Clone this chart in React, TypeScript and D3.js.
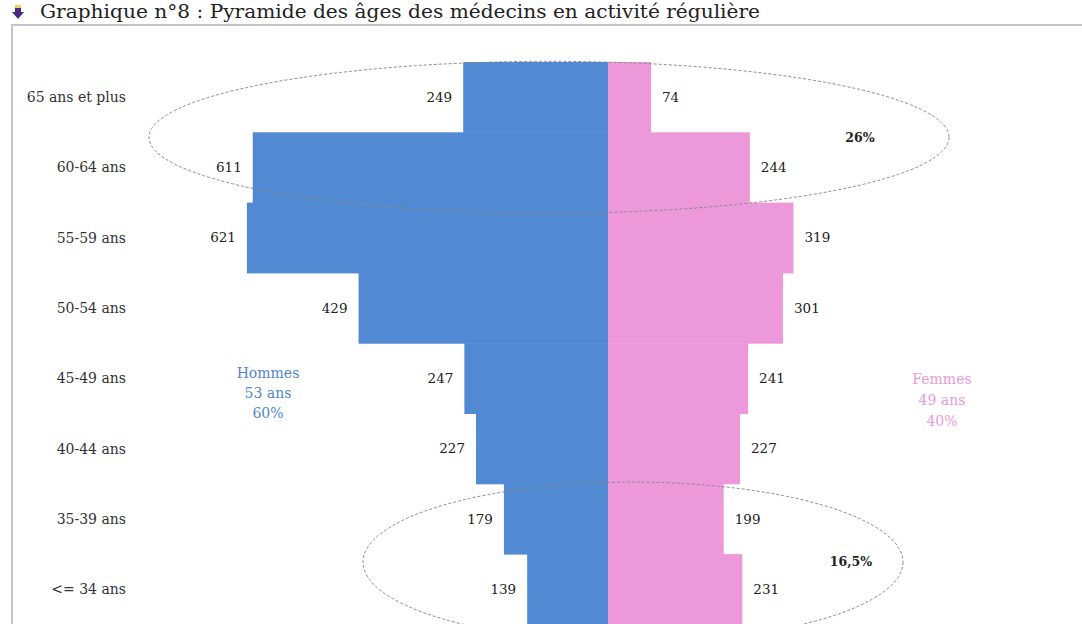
import React from 'react';
import * as d3 from 'd3';

// age groups, top to bottom
const ageGroups = ['65 ans et plus', '60-64 ans', '55-59 ans', '50-54 ans', '45-49 ans', '40-44 ans', '35-39 ans', '<= 34 ans'];
const hommes = [249, 611, 621, 429, 247, 227, 179, 139];
const femmes = [74, 244, 319, 301, 241, 227, 199, 231];

const hommesInfo = ['Hommes', '53 ans', '60%'];
const femmesInfo = ['Femmes', '49 ans', '40%'];
const shareOld = '26%';
const shareYoung = '16,5%';

const title = 'Graphique n°8 : Pyramide des âges des médecins en activité régulière';

const W = 1082;
const H = 624;
const center = 608;
const blue = '#5189d2';
const pink = '#ee98dc';
const font = '"DejaVu Serif", "Liberation Serif", serif';

export default function App() {
  const y = d3.scaleBand<string>().domain(ageGroups).range([62, 62 + 8 * 70.3]).padding(0);
  const x = d3.scaleLinear().domain([0, 700]).range([0, 407]);
  const bw = y.bandwidth();

  // ellipse annotations, placed against band boundaries
  const topY = (y(ageGroups[1]) as number) + 5;
  const botY = (y(ageGroups[7]) as number) + 8;

  return (
    <svg width={W} height={H} style={{ position: 'absolute', left: 0, top: 0, background: '#fff' }} fontFamily={font}>
      {/* title */}
      <path d="M15,7 L21,7 L21,12 L24,12 L18,19 L12,12 L15,12 Z" fill="#4b2a86" />
      <rect x={15} y={5} width={6} height={3} fill="#f2d24a" />
      <text x={40} y={18} fontSize={18} fill="#222" textLength={720} lengthAdjust="spacingAndGlyphs">{title}</text>

      {/* frame */}
      <rect x={12} y={25} width={1200} height={700} fill="none" stroke="#c4c4c4" strokeWidth={2} />

      {/* bars */}
      {ageGroups.map((g, i) => (
        <g key={g}>
          <rect x={center - x(hommes[i])} y={y(g)} width={x(hommes[i])} height={bw + 0.5} fill={blue} />
          <rect x={center} y={y(g)} width={x(femmes[i])} height={bw + 0.5} fill={pink} />
          <text x={126} y={(y(g) as number) + bw / 2} dy="0.35em" textAnchor="end" fontSize={14} fill="#333">{g}</text>
          <text x={center - x(hommes[i]) - 11} y={(y(g) as number) + bw / 2} dy="0.35em" textAnchor="end" fontSize={13.5} fill="#222">{hommes[i]}</text>
          <text x={center + x(femmes[i]) + 11} y={(y(g) as number) + bw / 2} dy="0.35em" fontSize={13.5} fill="#222">{femmes[i]}</text>
        </g>
      ))}

      {/* ellipses */}
      <ellipse cx={549} cy={topY} rx={400} ry={76} fill="none" stroke="#8a8a8a" strokeWidth={1} strokeDasharray="3,2" />
      <ellipse cx={633} cy={botY} rx={270} ry={80} fill="none" stroke="#8a8a8a" strokeWidth={1} strokeDasharray="3,2" />
      <text x={860} y={topY} dy="0.35em" textAnchor="middle" fontSize={12.5} fontWeight="bold" fill="#222">{shareOld}</text>
      <text x={851} y={botY} dy="0.35em" textAnchor="middle" fontSize={12.5} fontWeight="bold" fill="#222">{shareYoung}</text>

      {/* side labels */}
      {hommesInfo.map((t, i) => (
        <text key={t} x={268} y={373 + i * 20} dy="0.35em" textAnchor="middle" fontSize={14} fill="#4f86cc">{t}</text>
      ))}
      {femmesInfo.map((t, i) => (
        <text key={t} x={942} y={379 + i * 21} dy="0.35em" textAnchor="middle" fontSize={14} fill="#e99bd9">{t}</text>
      ))}
    </svg>
  );
}
